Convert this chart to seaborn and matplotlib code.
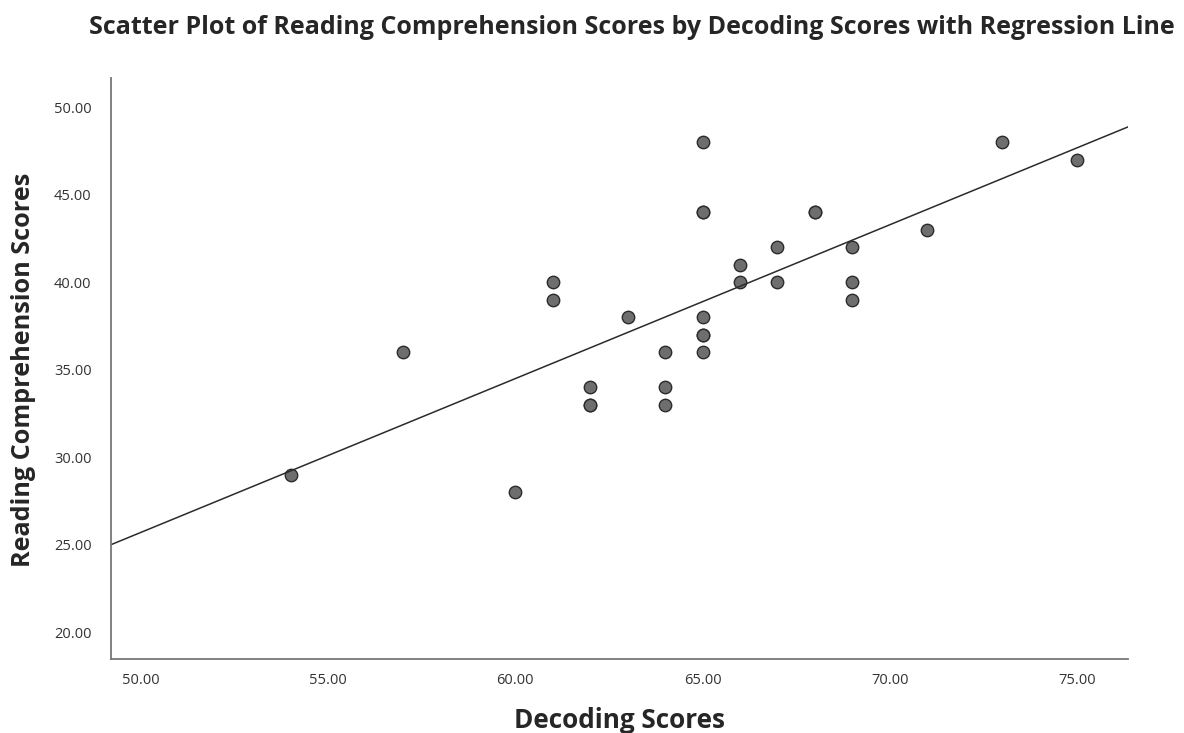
import seaborn as sns
import matplotlib.pyplot as plt
import pandas as pd

# Data (darker circles there are duplicated cases)
decoding = [54, 57, 60, 61, 61, 62, 62, 62, 63, 64, 64, 64,
            65, 65, 65, 65, 65, 65, 65, 66, 66, 67, 67,
            68, 68, 69, 69, 69, 71, 73, 75]
reading = [29, 36, 28, 40, 39, 34, 33, 33, 38, 36, 34, 33,
           48, 44, 44, 38, 37, 37, 36, 41, 40, 42, 40,
           44, 44, 42, 40, 39, 43, 48, 47]
x_ticks = [50, 55, 60, 65, 70, 75]
y_ticks = [20, 25, 30, 35, 40, 45, 50]

df = pd.DataFrame({'Decoding Scores': decoding,
                   'Reading Comprehension Scores': reading})

sns.set_style("white")
plt.rcParams['font.family'] = ['Open Sans', 'DejaVu Sans']

fig = plt.figure(figsize=(11.84, 7.33), dpi=100)
ax = fig.add_axes([0.0937, 0.101, 0.859, 0.7926])
ax.set_xlim(49.2, 76.36)
ax.set_ylim(18.46, 51.66)

# regression line spans the whole x range like the SPSS fit line
sns.regplot(
    data=df, x='Decoding Scores', y='Reading Comprehension Scores',
    ax=ax, ci=None, truncate=False,
    scatter_kws=dict(s=80, color='#6e6e6e', edgecolor='#2b2b2b',
                     linewidths=1.0, alpha=1),
    line_kws=dict(color='#2b2b2b', lw=1.1),
)
ax.set_xlim(49.2, 76.36)
ax.set_ylim(18.46, 51.66)

ax.set_xticks(x_ticks)
ax.set_xticklabels([f'{v:.2f}' for v in x_ticks])
ax.set_yticks(y_ticks)
ax.set_yticklabels([f'{v:.2f}' for v in y_ticks])
ax.tick_params(labelsize=10.5, colors='#333333', length=0)
ax.tick_params(axis='x', pad=10)
ax.tick_params(axis='y', pad=14)

for side in ['top', 'right']:
    ax.spines[side].set_visible(False)
for side in ['left', 'bottom']:
    ax.spines[side].set_color('#777777')
    ax.spines[side].set_linewidth(1.3)

ax.set_xlabel('Decoding Scores', fontsize=18.8, fontweight='bold')
ax.xaxis.set_label_coords(0.5, -0.082)
ax.set_ylabel('Reading Comprehension Scores', fontsize=18.2, fontweight='bold')
ax.yaxis.set_label_coords(-0.074, 0.498)
fig.suptitle('Scatter Plot of Reading Comprehension Scores by Decoding Scores with Regression Line',
             x=0.534, y=0.98, fontsize=18, fontweight='bold')

plt.savefig('out.png', dpi=100)
